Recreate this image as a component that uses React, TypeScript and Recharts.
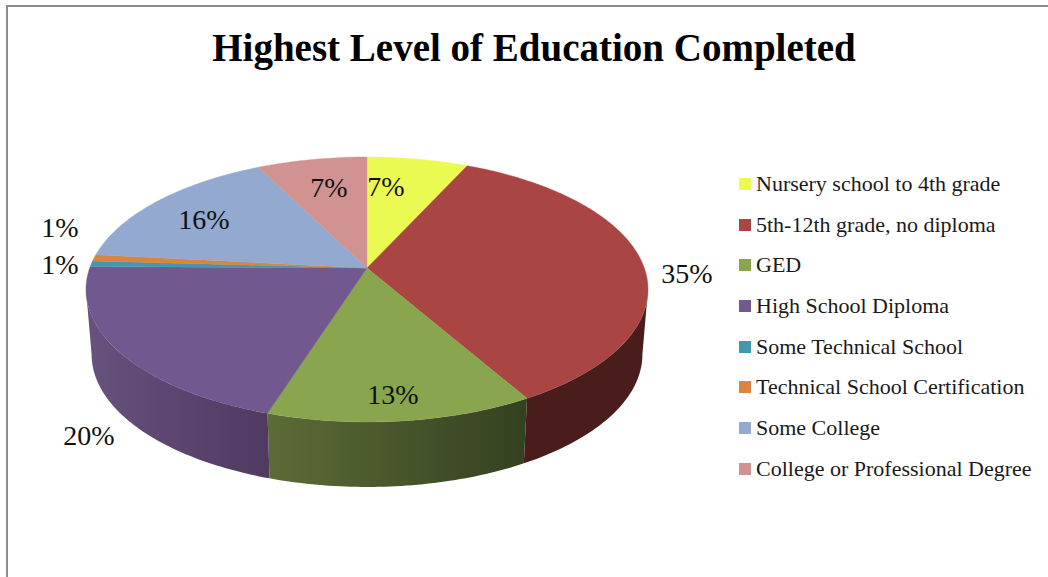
import { PieChart, Pie, Legend } from 'recharts';

const categories = [
  'Nursery school to 4th grade',
  '5th-12th grade, no diploma',
  'GED',
  'High School Diploma',
  'Some Technical School',
  'Technical School Certification',
  'Some College',
  'College or Professional Degree',
];
const shares = [6.8, 34.9, 13.15, 20.25, 0.7, 0.8, 15.9, 7.4];
const colors = ['#EBFA53', '#A94543', '#89A54E', '#71588F', '#4198AF', '#DB843D', '#93A9CF', '#D19392'];
const wallFills = ['#8a9431', '#481D1B', 'url(#wallGed)', 'url(#wallHs)', '#26596a', '#84501f', '#58657c', '#7d5857'];

// centre of each percent label in the picture
const labelSpots = [
  [386, 186], [687, 273], [393, 394], [89, 435], [60, 264], [60, 227], [204, 219], [329, 187],
];

const data = categories.map((name, i) => ({ name, value: shares[i], fill: colors[i] }));

const CX = 367;
const CY = 268;
const RX = 277.3;
const RY = 129;
const PERSP = 0.162; // the near edge of the disc is drawn bigger than the far edge
const DEPTH = 65;
const WALL_SHRINK = 0.98;
const SERIF = '"Liberation Serif", serif';

// clock angle in degrees, 0 at 12 o'clock, running clockwise
const project = (deg: number) => {
  const a = (deg * Math.PI) / 180;
  const u = Math.sin(a);
  const v = -Math.cos(a);
  const d = 1 - PERSP * v;
  return [CX + (RX * u) / d, CY + (RY * v) / d];
};

const arcPoints = (from: number, to: number) => {
  const pts = [];
  const n = Math.max(2, Math.ceil(Math.abs(to - from)));
  for (let i = 0; i <= n; i++) pts.push(project(from + ((to - from) * i) / n));
  return pts;
};

const toPath = (pts: number[][]) => pts.map((p, i) => `${i ? 'L' : 'M'}${p[0].toFixed(2)} ${p[1].toFixed(2)}`).join(' ');

const TopFace = (props: any) => {
  const from = 90 - props.startAngle;
  const to = 90 - props.endAngle;
  const d = `M${CX} ${CY} ${toPath(arcPoints(from, to)).replace('M', 'L')} Z`;
  return <path d={d} fill={props.fill} stroke={props.fill} strokeWidth={0.4} />;
};

// only the front part of the rim shows, between the two side extremes
const rimFrom = (Math.acos(-PERSP) * 180) / Math.PI;
const rimTo = 360 - rimFrom;

const Wall = (props: any) => {
  const from = Math.max(90 - props.startAngle, rimFrom);
  const to = Math.min(90 - props.endAngle, rimTo);
  if (to <= from) return null;
  const top = arcPoints(from, to);
  const bottom = top
    .map((p) => [CX + (p[0] - CX) * WALL_SHRINK, p[1] + DEPTH])
    .reverse();
  const i = categories.indexOf(props.name);
  return <path d={`${toPath(top)} ${toPath(bottom).replace('M', 'L')} Z`} fill={wallFills[i]} />;
};

const renderLabel = (props: any) => {
  const i = categories.indexOf(props.name);
  return (
    <text
      x={labelSpots[i][0]}
      y={labelSpots[i][1]}
      textAnchor="middle"
      dominantBaseline="central"
      fontFamily={SERIF}
      fontSize={28}
      fill="#111"
    >
      {`${Math.round(props.value)}%`}
    </text>
  );
};

// the wall pie also lands in the payload, so keep one row per category in data order
const LegendRows = ({ payload }: any) => (
  <div style={{ fontFamily: SERIF, fontSize: 22, color: '#1a1a1a' }}>
    {categories.map((name) => {
      const entry = payload.find((p: any) => p.value === name);
      return (
        <div key={name} style={{ height: 40.7, display: 'flex', alignItems: 'center', whiteSpace: 'nowrap' }}>
          <span style={{ width: 12, height: 12, background: entry?.color, marginRight: 5, flex: 'none' }} />
          {name}
        </div>
      );
    })}
  </div>
);

export default function App() {
  return (
    <div style={{ position: 'absolute', left: 0, top: 0, width: 1048, height: 577, background: '#fff', overflow: 'hidden' }}>
      <div
        style={{
          position: 'absolute',
          left: 6,
          top: 5,
          width: 1060,
          height: 600,
          border: '2px solid #8c8c8c',
          boxSizing: 'border-box',
        }}
      />
      <div
        style={{
          position: 'absolute',
          left: 0,
          width: 1068,
          top: 25,
          textAlign: 'center',
          fontFamily: SERIF,
          fontWeight: 'bold',
          fontSize: 39,
          color: '#000',
          whiteSpace: 'nowrap',
        }}
      >
        Highest Level of Education Completed
      </div>
      <div style={{ position: 'absolute', left: 0, top: 0 }}>
        <PieChart width={1048} height={577}>
          <defs>
            <linearGradient id="wallGed" gradientUnits="userSpaceOnUse" x1="268" y1="0" x2="527" y2="0">
              <stop offset="0" stopColor="#5C6C36" />
              <stop offset="1" stopColor="#344120" />
            </linearGradient>
            <linearGradient id="wallHs" gradientUnits="userSpaceOnUse" x1="88" y1="0" x2="270" y2="0">
              <stop offset="0" stopColor="#67517E" />
              <stop offset="1" stopColor="#4F3A60" />
            </linearGradient>
          </defs>
          <Pie
            data={data}
            dataKey="value"
            nameKey="name"
            cx={CX}
            cy={CY}
            outerRadius={120}
            startAngle={90}
            endAngle={-270}
            stroke="none"
            legendType="none"
            shape={Wall}
            isAnimationActive={false}
          />
          <Pie
            data={data}
            dataKey="value"
            nameKey="name"
            cx={CX}
            cy={CY}
            outerRadius={120}
            startAngle={90}
            endAngle={-270}
            stroke="none"
            legendType="square"
            shape={TopFace}
            label={renderLabel}
            labelLine={false}
            isAnimationActive={false}
          />
          <Legend
            layout="vertical"
            align="left"
            verticalAlign="top"
            content={LegendRows}
            wrapperStyle={{ left: 739, top: 163.5, width: 305 }}
          />
        </PieChart>
      </div>
    </div>
  );
}
